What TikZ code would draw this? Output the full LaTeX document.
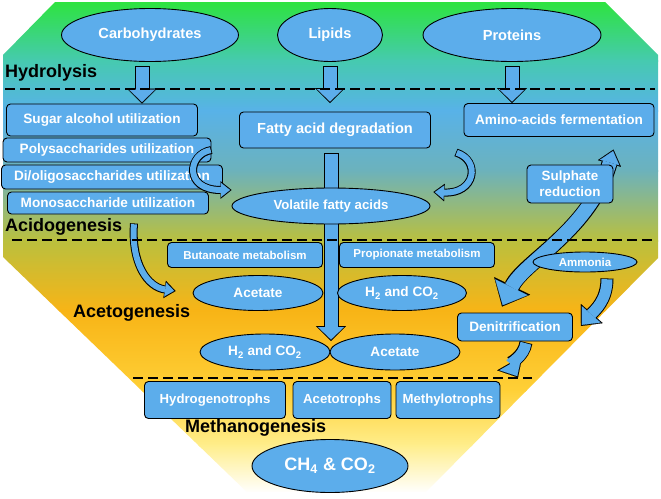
\documentclass[tikz,border=0pt]{standalone}
\usepackage{fontspec}
\setmainfont{Liberation Sans}
\usetikzlibrary{shapes.geometric,arrows.meta,backgrounds}
\definecolor{flowblue}{RGB}{92,173,235}
\definecolor{grad0}{RGB}{45,228,60}
\definecolor{grad1}{RGB}{70,202,175}
\definecolor{grad2}{RGB}{88,178,232}
\definecolor{grad3}{RGB}{108,178,188}
\definecolor{grad4}{RGB}{186,192,62}
\definecolor{grad5}{RGB}{248,180,22}
\definecolor{grad6}{RGB}{255,208,55}
\definecolor{grad7}{RGB}{255,238,140}
\definecolor{grad8}{RGB}{255,255,255}

\begin{document}
\begin{tikzpicture}[x=1pt, y=-1pt,
    pool/.style={ellipse, draw=black, line width=0.9pt, fill=flowblue, text=white, inner sep=0pt},
    procbox/.style={rectangle, rounded corners=4pt, draw=black, line width=0.9pt, fill=flowblue, text=white, inner sep=0pt, align=center},
    phase/.style={anchor=west, inner sep=0pt, text=black, font=\fontsize{18}{20}\selectfont\bfseries},
    phaseline/.style={draw=black, line width=2.5pt, dash pattern=on 10pt off 5pt},
    smallfs/.style={font=\fontsize{11.5}{13}\selectfont\bfseries},
    mainfs/.style={font=\fontsize{13.6}{16}\selectfont\bfseries},
    largefs/.style={font=\fontsize{14.6}{17}\selectfont\bfseries},
    hugefs/.style={font=\fontsize{18}{20}\selectfont\bfseries},
    fatarrow/.style={draw=flowblue, line width=13pt, shorten >=1.5pt, shorten <=0.8pt,
        -{Triangle[width=26pt,length=12.5pt,line width=0.1pt]},
        preaction={draw=black, line width=15pt, shorten >=0pt, shorten <=0pt,
        -{Triangle[width=30pt,length=15pt,line width=0.1pt]}}},
    curlarrow/.style={draw=flowblue, line width=6pt, shorten >=1.5pt, shorten <=0.8pt,
        -{Triangle[width=14pt,length=9pt,line width=0.1pt]},
        preaction={draw=black, line width=8pt, shorten >=0pt, shorten <=0pt,
        -{Triangle[width=17.5pt,length=11pt,line width=0.1pt]}}},
    midarrow/.style={draw=flowblue, line width=11pt, shorten >=1.5pt, shorten <=0.8pt,
        -{Triangle[width=25pt,length=14pt,line width=0.1pt]},
        preaction={draw=black, line width=13pt, shorten >=0pt, shorten <=0pt,
        -{Triangle[width=29pt,length=16.5pt,line width=0.1pt]}}},
    bigarrow/.style={draw=flowblue, line width=14pt, shorten >=1.5pt, shorten <=1.5pt,
        {Triangle[width=36pt,length=20pt,line width=0.1pt]}-{Triangle[width=20pt,length=12pt,line width=0.1pt]},
        preaction={draw=black, line width=16pt, shorten >=0pt, shorten <=0pt,
        {Triangle[width=40pt,length=23pt,line width=0.1pt]}-{Triangle[width=24pt,length=14.5pt,line width=0.1pt]}}}]
    \useasboundingbox (0,0) rectangle (661,498);

    % substrates
    \node[pool, minimum width=177pt, minimum height=53pt, largefs] (carb) at (150,35) {Carbohydrates};
    \node[pool, minimum width=105pt, minimum height=53pt, largefs] (lipid) at (330,35) {Lipids};
    \node[pool, minimum width=178pt, minimum height=53pt, largefs] (prot) at (512,35) {Proteins};

    % acidogenesis
    \node[procbox, minimum width=191pt, minimum height=32pt, mainfs] (sugar) at (102,120) {Sugar alcohol utilization};
    \node[procbox, minimum width=208pt, minimum height=24pt, mainfs] (poly) at (107,150) {Polysaccharides utilization};
    \node[procbox, minimum width=221pt, minimum height=24pt, mainfs] (dioligo) at (112,177) {Di/oligosaccharides utilization};
    \node[procbox, minimum width=201pt, minimum height=22pt, mainfs] (mono) at (108,203) {Monosaccharide utilization};
    \node[procbox, minimum width=191pt, minimum height=36pt, largefs] (fatty) at (335,130) {Fatty acid degradation};
    \node[procbox, minimum width=190pt, minimum height=33pt, mainfs] (amino) at (559,120) {Amino-acids fermentation};
    \node[pool, minimum width=198pt, minimum height=36pt, font=\fontsize{13.2}{15}\selectfont\bfseries] (vfa) at (331,206) {Volatile fatty acids};
    \node[procbox, minimum width=86pt, minimum height=38pt, font=\fontsize{13.4}{16}\selectfont\bfseries] (sulph) at (570,184) {Sulphate\\reduction};

    % acetogenesis
    \node[procbox, minimum width=155pt, minimum height=25pt, smallfs] (buta) at (245,255) {Butanoate metabolism};
    \node[procbox, minimum width=155pt, minimum height=25pt, smallfs] (propi) at (417,255) {Propionate metabolism};
    \node[pool, minimum width=130pt, minimum height=35pt, mainfs] (acetA) at (258,293) {Acetate};
    \node[pool, minimum width=129pt, minimum height=35pt, mainfs] (hcoA) at (402,293) {H\textsubscript{2} and CO\textsubscript{2}};
    \node[pool, minimum width=130pt, minimum height=36pt, mainfs] (hcoB) at (265,352) {H\textsubscript{2} and CO\textsubscript{2}};
    \node[pool, minimum width=130pt, minimum height=36pt, mainfs] (acetB) at (395,352) {Acetate};
    \node[pool, minimum width=104pt, minimum height=20pt, smallfs] (ammon) at (585,262) {Ammonia};
    \node[procbox, minimum width=115pt, minimum height=28pt, mainfs] (denit) at (515,327) {Denitrification};

    % methanogenesis
    \node[procbox, minimum width=141pt, minimum height=37pt, font=\fontsize{13.2}{15}\selectfont\bfseries] (hydro) at (215,400) {Hydrogenotrophs};
    \node[procbox, minimum width=98pt, minimum height=37pt, font=\fontsize{13.2}{15}\selectfont\bfseries] (aceto) at (342,400) {Acetotrophs};
    \node[procbox, minimum width=104pt, minimum height=37pt, font=\fontsize{13.2}{15}\selectfont\bfseries] (methyl) at (448,400) {Methylotrophs};
    \node[pool, minimum width=156pt, minimum height=53pt, hugefs] (ch4) at (330,466) {CH\textsubscript{4} \& CO\textsubscript{2}};

    % phase labels
    \node[phase] (hydrolysis) at (5,73) {Hydrolysis};
    \node[phase] (acidogenesis) at (5,227) {Acidogenesis};
    \node[phase] (acetogenesis) at (73,313) {Acetogenesis};
    \node[phase] (methanogenesis) at (185,428) {Methanogenesis};

    \coordinate (carbtop) at ([xshift=-8pt,yshift=-4pt]carb.south);
    \coordinate (liptop) at ([yshift=-4pt]lipid.south);
    \coordinate (prottop) at ([yshift=-4pt]prot.south);
    \coordinate (fattop) at ([yshift=-5pt]vfa.center |- fatty.south);

    \begin{scope}[on background layer]
        \fill[white] (0,0) rectangle (661,498);
        \begin{scope}
            \clip (55,2) -- (605,2) -- (658,55) -- (658,258) -- (423,495) -- (250,495) -- (3,257) -- (3,55) -- cycle;
            \foreach \ya/\yb/\ca/\cb in {0/60/grad0/grad1, 60/110/grad1/grad2, 110/170/grad2/grad3,
                170/240/grad3/grad4, 240/310/grad4/grad5, 310/390/grad5/grad6,
                390/445/grad6/grad7, 445/492/grad7/grad8}
                \shade[top color=\ca, bottom color=\cb] (0,\ya) rectangle (661,\yb+1);
            \fill[white] (0,492) rectangle (661,498);
        \end{scope}

        % hydrolysis arrows
        \draw[fatarrow] (carbtop) -- (carbtop |- sugar.north);
        \draw[fatarrow] (liptop) -- (liptop |- amino.north);
        \draw[fatarrow] (prottop) -- (prottop |- amino.north);
        \draw[fatarrow] (fattop) -- (fattop |- 0,341);

        % side arrows
        \draw[curlarrow] ([xshift=25pt,yshift=-4pt]fatty.south east) .. controls +(25,8) and +(42,2) .. ([xshift=3pt,yshift=14pt]vfa.east);
        \draw[curlarrow] ([xshift=26pt,yshift=-9pt]mono.south) .. controls +(-3,40) and +(-28,-4) .. ([xshift=-17pt,yshift=2pt]acetA.west);
        \draw[bigarrow] ([xshift=45pt,yshift=6pt]denit.north west) .. controls +(22,-45) and +(-23,80) .. ([yshift=15pt]sulph.north east);
        \draw[midarrow] ([xshift=22pt,yshift=-6pt]ammon.south) .. controls +(0,22) and +(14,-16) .. ([xshift=8pt,yshift=1pt]denit.east);
        \draw[midarrow] ([xshift=11pt,yshift=-1pt]denit.south) .. controls +(-2,14) and +(-8,-14) .. ([xshift=3pt,yshift=-36pt]denit.south);

        % phase borders
        \draw[phaseline] (5,89) -- (655,89);
        \draw[phaseline] (12,240) -- (655,240);
        \draw[phaseline] (133,378) -- (532,378);
    \end{scope}

    \draw[curlarrow] (poly.east) .. controls +(-24,4) and +(-48,0) .. ([yshift=16pt]vfa.west);
\end{tikzpicture}
\end{document}
